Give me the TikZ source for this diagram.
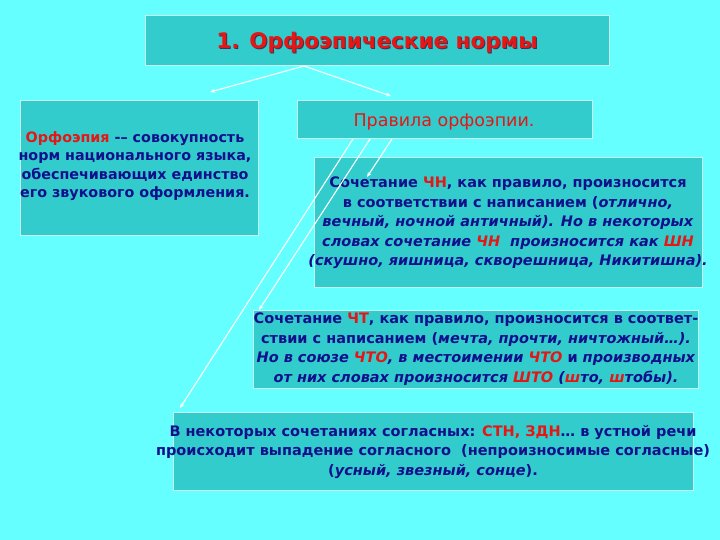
\documentclass[tikz,border=0pt]{standalone}
\usepackage{fontspec}
\setmainfont{DejaVu Sans}
\usetikzlibrary{arrows.meta}
\definecolor{bg}{RGB}{102,255,255}
\definecolor{boxc}{RGB}{51,204,204}
\definecolor{navy}{RGB}{16,16,140}
\definecolor{rd}{RGB}{228,22,22}
\definecolor{shadowc}{RGB}{70,50,80}
\newcommand{\rr}[1]{{\color{rd}#1}}
\begin{document}
\begin{tikzpicture}[x=1pt,y=-1pt,
  box/.style={draw=white!75!boxc, line width=0.7pt, fill=boxc, inner sep=0pt},
  txt/.style={align=center, text=navy, inner sep=0pt, font=\fontsize{14.5}{19.5}\selectfont\bfseries},
  conn/.style={draw=white, line width=1.1pt, -{Stealth[length=5pt,width=4pt]}}]
\fill[bg] (0,0) rectangle (720,540);
\useasboundingbox (0,0) rectangle (720,540);
% boxes
\node[box, minimum width=464pt, minimum height=50pt] (title) at (377,40) {};
\node[box, minimum width=238pt, minimum height=135pt] (left) at (139,167.5) {};
\node[box, minimum width=295pt, minimum height=38pt] (rules) at (444.5,119) {};
\node[box, minimum width=388pt, minimum height=130pt] (chn) at (508,222) {};
\node[box, minimum width=445pt, minimum height=78pt] (cht) at (475.5,349) {};
\node[box, minimum width=520pt, minimum height=78pt] (bot) at (433,451) {};
% texts
\node[inner sep=0pt, text=shadowc, font=\fontsize{21.5}{25}\selectfont\bfseries] (titleshadow) at (378,44) {1. Орфоэпические нормы};
\node[inner sep=0pt, text=rd, font=\fontsize{21.5}{25}\selectfont\bfseries] (titletext) at (377,43) {1. Орфоэпические нормы};
\node[txt, font=\fontsize{14.3}{18.5}\selectfont\bfseries] (lefttext) at (135,166) {\rr{Орфоэпия} -– совокупность\\норм национального языка,\\обеспечивающих единство\\его звукового оформления.};
\node[inner sep=0pt, text=rd, font=\fontsize{17.5}{20}\selectfont] (rulestext) at (444,122) {Правила орфоэпии.};
\node[txt] (chntext) at (508,223) {Сочетание \rr{ЧН}, как правило, произносится\\в соответствии с написанием (\textit{отлично,}\\\textit{вечный, ночной античный). Но в некоторых}\\\textit{словах сочетание \rr{ЧН}\ \ произносится как \rr{ШН}}\\\textit{(скушно, яишница, скворешница, Никитишна).}};
\node[txt] (chttext) at (476,349) {Сочетание \rr{ЧТ}, как правило, произносится в соответ-\\ствии с написанием (\textit{мечта, прочти, ничтожный…).}\\\textit{Но в союзе \rr{ЧТО}, в местоимении \rr{ЧТО}} и \textit{производных}\\\textit{от них словах произносится \rr{ШТО} (\rr{ш}то, \rr{ш}тобы).}};
\node[txt] (bottext) at (433,452) {В некоторых сочетаниях согласных: \rr{СТН, ЗДН}… в устной речи\\происходит выпадение согласного\ \ (непроизносимые согласные)\\(\textit{усный, звезный, сонце}).};
% connectors
\coordinate (t0) at (304,66);
\coordinate (tl) at (210,92);
\coordinate (tr) at (391,96);
\coordinate (r1) at (392,139);
\coordinate (r2) at (370,139);
\coordinate (r3) at (353,139);
\coordinate (e1) at (367,177);
\coordinate (e2) at (259,310);
\coordinate (e3) at (180,408);
\draw[conn] (t0) -- (tl);
\draw[conn] (t0) -- (tr);
\draw[conn] (r1) -- (e1);
\draw[conn] (r2) -- (e2);
\draw[conn] (r3) -- (e3);
\end{tikzpicture}
\end{document}
